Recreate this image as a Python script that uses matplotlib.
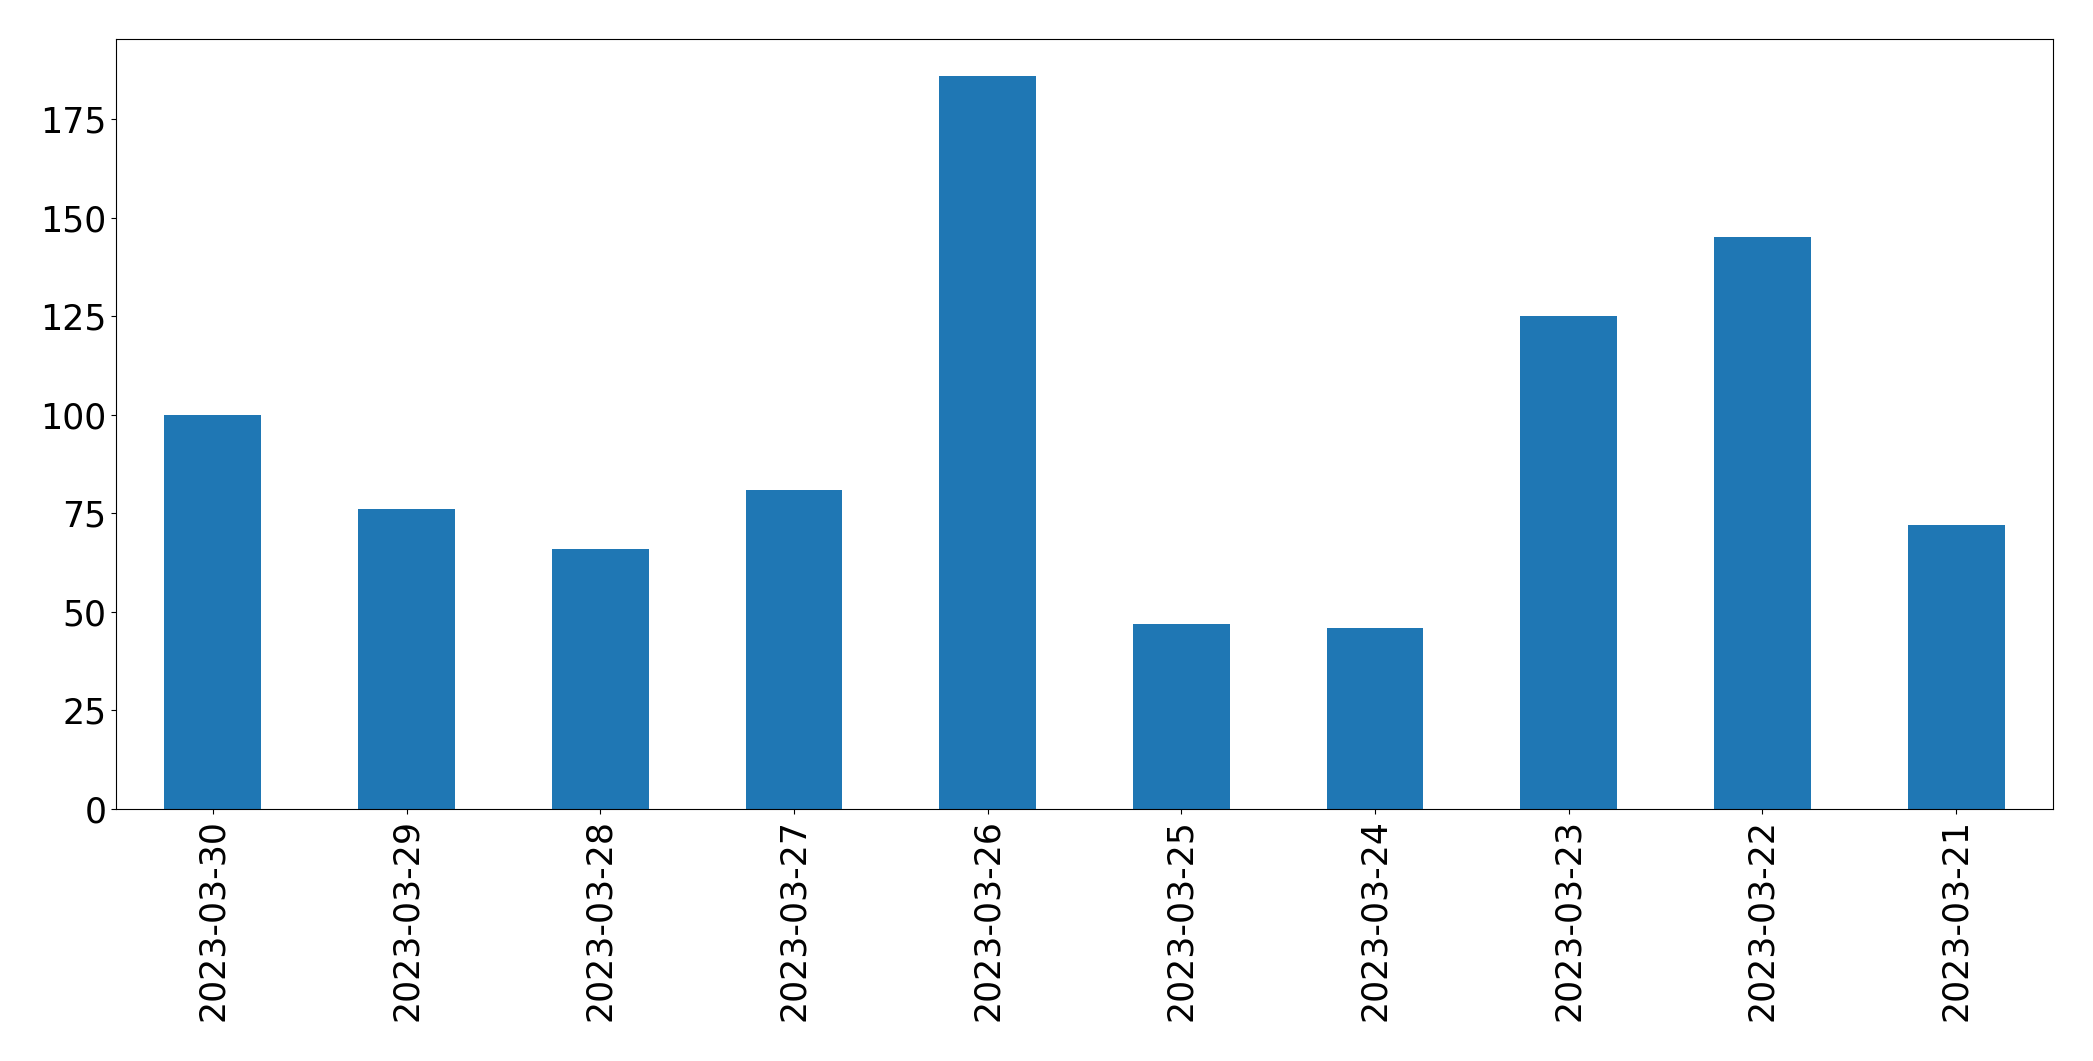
import matplotlib
matplotlib.use("Agg")
import matplotlib.pyplot as plt

dates = ["2023-03-30", "2023-03-29", "2023-03-28", "2023-03-27", "2023-03-26",
         "2023-03-25", "2023-03-24", "2023-03-23", "2023-03-22", "2023-03-21"]
values = [100, 76, 66, 81, 186, 47, 46, 125, 145, 72]

fig = plt.figure(figsize=(20.93, 10.61), dpi=100)
ax = fig.add_axes([116/2093, 1 - 809/1061, (2053-116)/2093, (809-39)/1061])
x = list(range(len(dates)))
ax.bar(x, values, width=0.5, color="#1f77b4")
ax.set_xticks(x)
ax.set_xticklabels(dates, rotation=90)
ax.set_xlim(-0.5, len(dates) - 0.5)
ax.set_ylim(0, 195.3)
ax.tick_params(labelsize=25)
fig.savefig("out.png", dpi=100)
